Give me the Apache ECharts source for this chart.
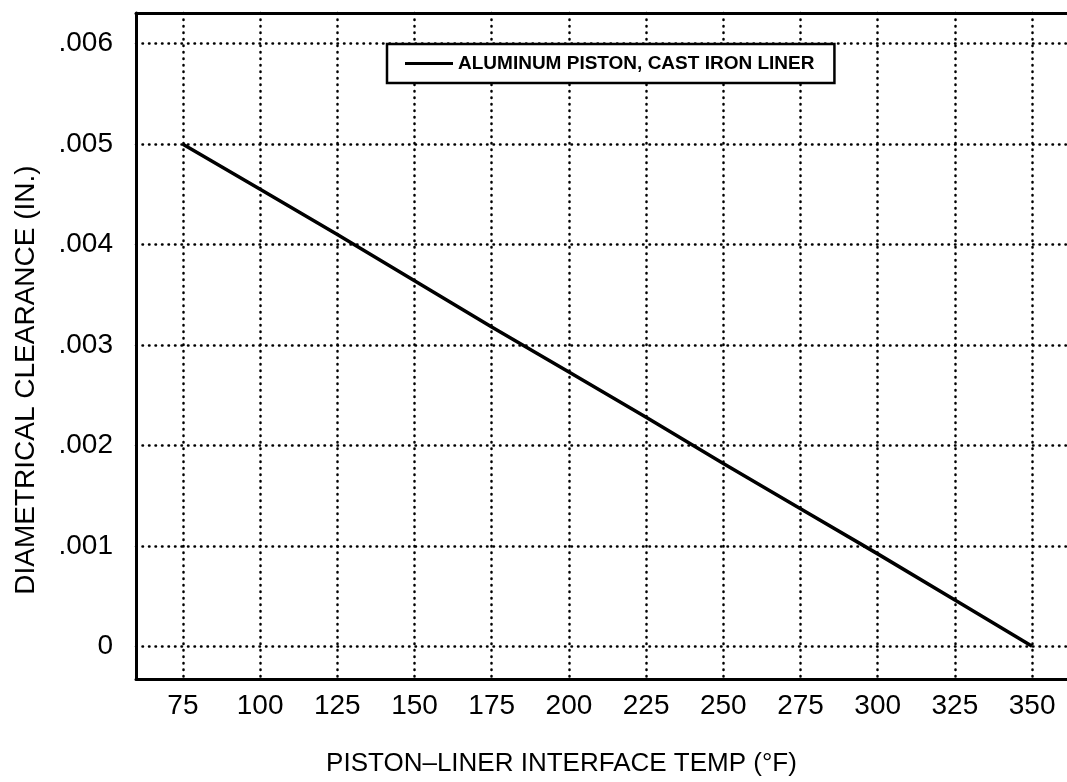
<!DOCTYPE html>
<html>
<head>
<meta charset="utf-8">
<script src="https://cdn.jsdelivr.net/npm/echarts@6/dist/echarts.min.js"></script>
<style>
html,body{margin:0;padding:0;background:#fff;}
#chart{width:1067px;height:782px;}
</style>
</head>
<body>
<div id="chart"></div>
<script>
// Data
const seriesName = 'ALUMINUM PISTON, CAST IRON LINER';
const temps = [75, 100, 125, 150, 175, 200, 225, 250, 275, 300, 325, 350];
const clearance = [0.0050, 0.00455, 0.0041, 0.00364, 0.00318, 0.00273, 0.00228, 0.00182, 0.00137, 0.00092, 0.00046, 0.0];
const xTicks = [75, 100, 125, 150, 175, 200, 225, 250, 275, 300, 325, 350];
const yTicks = [0, 0.001, 0.002, 0.003, 0.004, 0.005, 0.006];
const yTickLabels = ['0', '.001', '.002', '.003', '.004', '.005', '.006'];
const xTitle = 'PISTON\u2013LINER INTERFACE TEMP (\u00B0F)';
const yTitle = 'DIAMETRICAL CLEARANCE (IN.)';

const FONT = '"Liberation Sans", Arial, Helvetica, sans-serif';
const dotted = { color: '#000', width: 2.5, type: [0.5, 6], cap: 'round' };

const chart = echarts.init(document.getElementById('chart'), null, { renderer: 'canvas' });
chart.setOption({
  backgroundColor: '#fff',
  animation: false,
  grid: { left: 136, top: 13, right: 0, bottom: 97, containLabel: false },
  legend: {
    data: [{ name: seriesName, icon: 'path://M0,0 L100,0 L100,6 L0,6 Z' }],
    left: 387, top: 44,
    itemWidth: 48, itemHeight: 14, itemGap: 10,
    padding: [10, 20, 10, 18],
    backgroundColor: '#fff',
    borderColor: '#000', borderWidth: 2.5, borderRadius: 0,
    textStyle: { fontFamily: FONT, fontSize: 19, fontWeight: 'bold', color: '#000' }
  },
  xAxis: [{
    type: 'value', min: 59.8, max: 361.3,
    name: xTitle, nameLocation: 'middle', nameGap: 72,
    nameTextStyle: { fontFamily: FONT, fontSize: 26, color: '#000', padding: [0, 80, 0, 0] },
    axisLine: { show: true, onZero: false, lineStyle: { color: '#000', width: 3 } },
    axisTick: { show: false, customValues: xTicks },
    axisLabel: { customValues: xTicks, fontFamily: FONT, fontSize: 28, color: '#000', margin: 13 },
    splitLine: { show: true, lineStyle: dotted }
  }, {
    type: 'value', min: 59.8, max: 361.3, position: 'top',
    axisLine: { show: true, onZero: false, lineStyle: { color: '#000', width: 3 } },
    axisTick: { show: false }, axisLabel: { show: false }, splitLine: { show: false }
  }],
  yAxis: {
    type: 'value', min: -0.000326, max: 0.006306,
    name: yTitle, nameLocation: 'middle', nameGap: 96,
    nameTextStyle: { fontFamily: FONT, fontSize: 28, color: '#000', padding: [0, 68, 0, 0] },
    axisLine: { show: true, onZero: false, lineStyle: { color: '#000', width: 3 } },
    axisTick: { show: false, customValues: yTicks },
    axisLabel: {
      customValues: yTicks, fontFamily: FONT, fontSize: 28, color: '#000', margin: 23,
      formatter: function (v) {
        const i = yTicks.findIndex(t => Math.abs(t - v) < 1e-9);
        return i >= 0 ? yTickLabels[i] : '';
      }
    },
    splitLine: { show: true, lineStyle: dotted }
  },
  series: [{
    name: seriesName, type: 'line', xAxisIndex: 0,
    data: temps.map((t, i) => [t, clearance[i]]),
    symbol: 'none', smooth: false,
    lineStyle: { color: '#000', width: 3.5 },
    itemStyle: { color: '#000' }
  }]
});
</script>
</body>
</html>
